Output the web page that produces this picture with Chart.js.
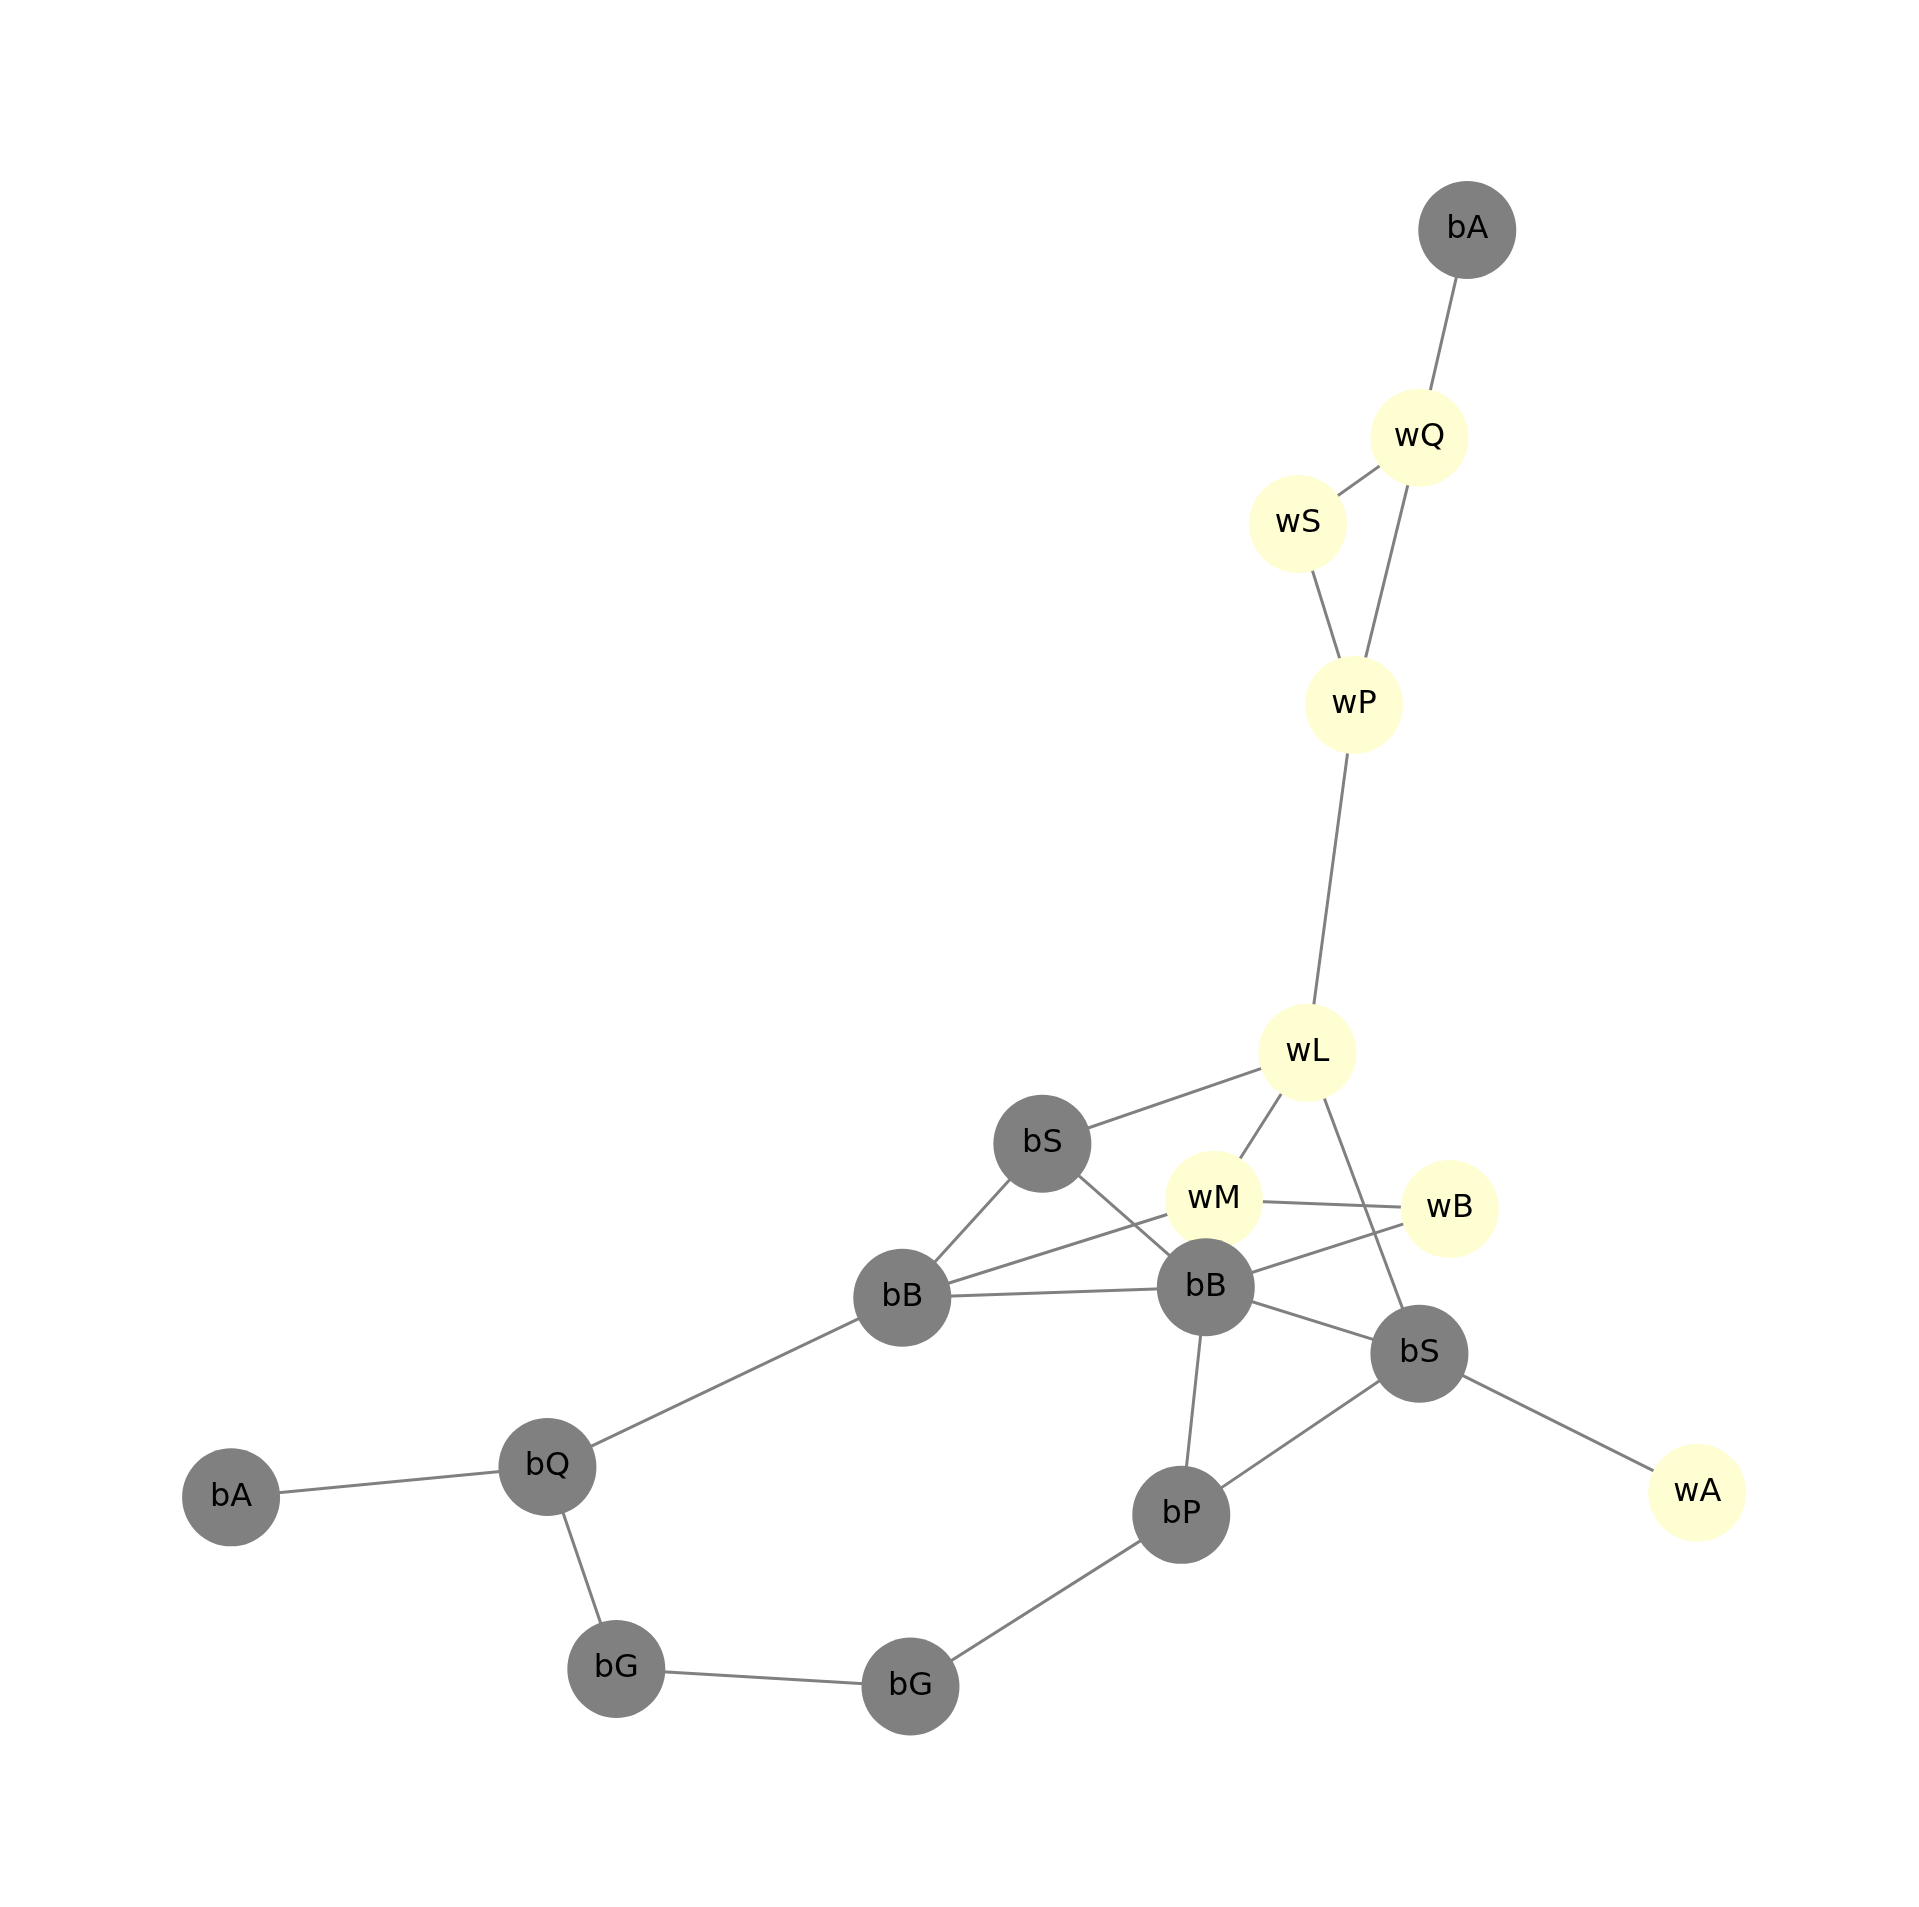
<!DOCTYPE html>
<html><head><meta charset="utf-8">
<script src="https://cdn.jsdelivr.net/npm/chart.js@4"></script>
<style>html,body{margin:0;padding:0;background:#fff}#w{width:1919px;height:1907px}</style>
</head><body><div id="w"><canvas id="c"></canvas></div>
<script>
const nodeLabels = ["bA","wQ","wS","wP","wL","bS","wM","wB","bB","bB","bS","wA","bA","bQ","bP","bG","bG"];
const nodeX = [1215,1174,1070,1118,1078,851,998,1200,731,991,1174,1412,156,427,970,486,738];
const nodeY = [155,333,407,562,860,938,986,994,1070,1061,1118,1237,1241,1215,1256,1388,1403];
const edgeFrom = [0,1,1,2,3,4,4,4,5,5,6,6,7,8,8,9,9,10,10,13,13,15,16];
const edgeTo   = [1,2,3,3,4,5,6,10,8,9,7,8,9,9,13,10,14,14,11,12,15,16,14];
const GRAY='#808080', YEL='#fffdd2';
const datasets = [];
datasets.push({data: nodeX.map((x,i)=>({x:x,y:nodeY[i]})), pointRadius:49, pointHoverRadius:49,
  pointBackgroundColor: nodeLabels.map(l=>l[0]==='b'?GRAY:YEL), pointBorderWidth:0, showLine:false, order:0});
edgeFrom.forEach((a,k)=>{const b=edgeTo[k];
  datasets.push({data:[{x:nodeX[a],y:nodeY[a]},{x:nodeX[b],y:nodeY[b]}], showLine:true, borderColor:GRAY, borderWidth:3, pointRadius:0, order:1});});
const labelPlugin={id:'lbl',afterDatasetsDraw(ch){const c=ch.ctx,xs=ch.scales.x,ys=ch.scales.y;
  c.save();c.font='32px "DejaVu Sans"';c.fillStyle='#000';c.textAlign='center';c.textBaseline='middle';
  nodeLabels.forEach((l,i)=>c.fillText(l,xs.getPixelForValue(nodeX[i]),ys.getPixelForValue(nodeY[i])));c.restore();}};
new Chart(document.getElementById('c'),{type:'scatter',data:{datasets},plugins:[labelPlugin],
 options:{responsive:true,maintainAspectRatio:false,animation:false,layout:{padding:0},
  plugins:{legend:{display:false},tooltip:{enabled:false}},
  scales:{x:{type:'linear',display:false,min:0,max:1560},y:{type:'linear',display:false,min:0,max:1550,reverse:true}}}});
</script></body></html>
